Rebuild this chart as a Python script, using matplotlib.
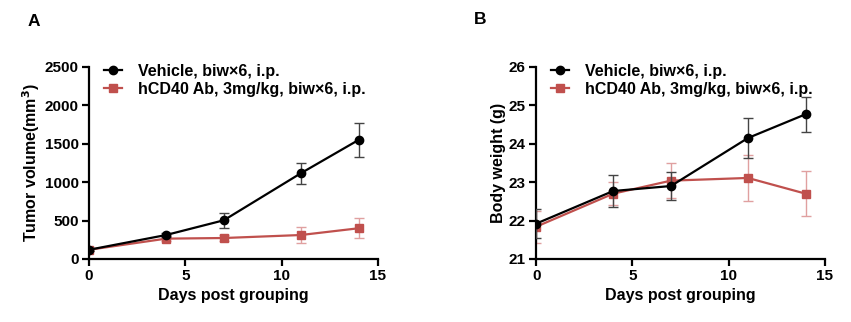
import numpy as np
from matplotlib import pyplot as plt
from matplotlib.lines import Line2D

plt.rcParams['font.family'] = ['Liberation Sans', 'DejaVu Sans']
plt.rcParams['font.weight'] = 'bold'

days = [0, 4, 7, 11, 14]

# panel A: tumor volume (mm^3)
veh_tv = [120, 312, 504, 1116, 1550]
veh_tv_err = [20, 25, 100, 135, 225]
cd40_tv = [120, 265, 273, 312, 400]
cd40_tv_err = [20, 30, 40, 110, 130]

# panel B: body weight (g)
veh_bw = [21.92, 22.77, 22.9, 24.15, 24.77]
veh_bw_err = [0.38, 0.42, 0.37, 0.52, 0.46]
cd40_bw = [21.84, 22.7, 23.04, 23.11, 22.7]
cd40_bw_err = [0.42, 0.3, 0.45, 0.6, 0.58]

labels = ['Vehicle, biw\u00d76, i.p.', 'hCD40 Ab, 3mg/kg, biw\u00d76, i.p.']
red = '#c0504d'

fig = plt.figure(figsize=(8.51, 3.22), dpi=100)
axA = fig.add_axes([0.1046, 0.1957, 0.3394, 0.5963])
axB = fig.add_axes([0.630, 0.1957, 0.3394, 0.5963])


def draw(ax, v, ve, c, ce, ylim, yticks, ylabel):
    ax.errorbar(days, v, yerr=ve, color='black', ecolor='#444444', marker='o',
                ms=6, lw=1.6, elinewidth=1, capsize=3.5, capthick=1, zorder=3)
    ax.errorbar(days, c, yerr=ce, color=red, ecolor='#e0a0a0', marker='s',
                ms=6, lw=1.6, elinewidth=1, capsize=3.5, capthick=1, zorder=2)
    ax.set_xlim(0, 15)
    ax.set_ylim(*ylim)
    ax.set_xticks([0, 5, 10, 15])
    ax.set_yticks(yticks)
    for s in ['top', 'right']:
        ax.spines[s].set_visible(False)
    for s in ['left', 'bottom']:
        ax.spines[s].set_linewidth(1.6)
    ax.tick_params(width=1.6, length=5, labelsize=11, pad=2.5)
    ax.set_xlabel('Days post grouping', fontsize=11.5, fontweight='bold', labelpad=3)
    ax.set_ylabel(ylabel, fontsize=11.5, fontweight='bold', labelpad=2)
    handles = [Line2D([], [], color='black', marker='o', ms=6, lw=1.6),
               Line2D([], [], color=red, marker='s', ms=6, lw=1.6)]
    ax.legend(handles, labels, loc='upper left', bbox_to_anchor=(0.03, 1.05),
              frameon=False, fontsize=11.5, handlelength=1.1, handletextpad=1.0,
              labelspacing=0.2, borderaxespad=0)


draw(axA, veh_tv, veh_tv_err, cd40_tv, cd40_tv_err, (0, 2500),
     [0, 500, 1000, 1500, 2000, 2500], 'Tumor volume(mm$^\\mathbf{3}$)')
draw(axB, veh_bw, veh_bw_err, cd40_bw, cd40_bw_err, (21, 26),
     [21, 22, 23, 24, 25, 26], 'Body weight (g)')

fig.text(28 / 851, 1 - 22 / 322, 'A', fontsize=12.5, fontweight='bold', va='center')
fig.text(44 / 851 + 430 / 851, 1 - 20 / 322, 'B', fontsize=12.5, fontweight='bold', va='center')

fig.savefig('out.png', dpi=100)
